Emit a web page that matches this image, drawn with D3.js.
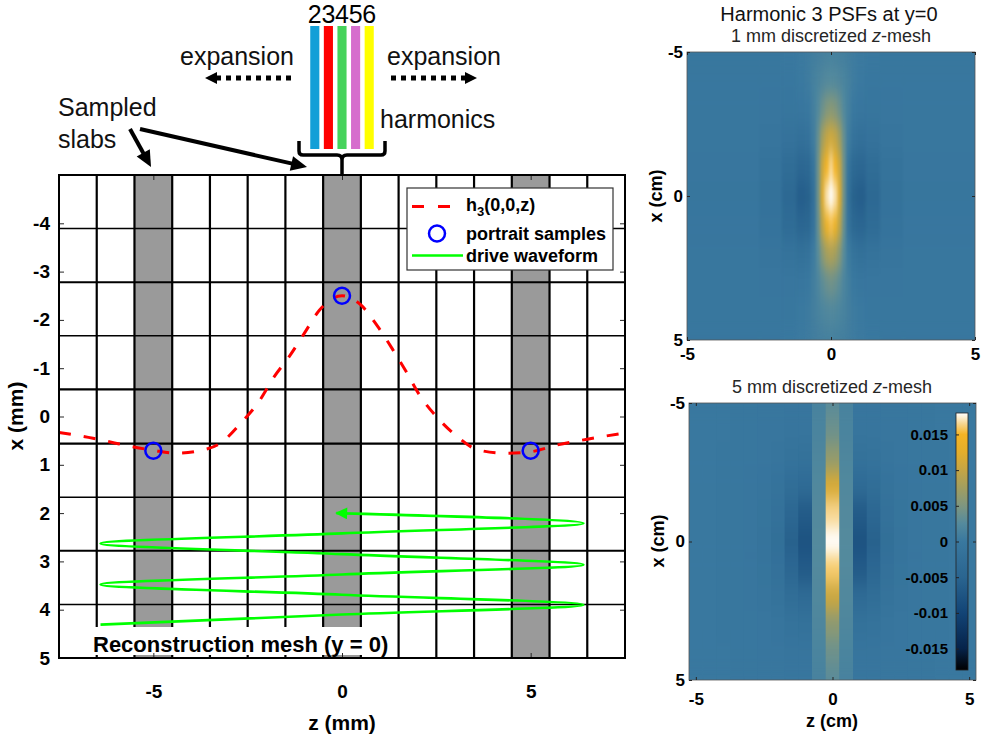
<!DOCTYPE html>
<html>
<head>
<meta charset="utf-8">
<script src="https://cdn.jsdelivr.net/npm/d3@7"></script>
<style>
  body { margin: 0; background: #fff; }
  text { font-family: "Liberation Sans", Arial, sans-serif; }
</style>
</head>
<body>
<div class="canvas"></div>
<script>
// ---------- values ----------
const harmonics = [2, 3, 4, 5, 6];
const harmonicColours = ['#139fd7', '#ff0000', '#45d35b', '#d66ecd', '#ffff00'];

const slabCentres = [-5, 0, 5];                       // sampled slabs (mm)
const zMeshEdges = [-6.5, -5.5, -4.5, -3.5, -2.5, -1.5, -0.5, 0.5, 1.5, 2.5, 3.5, 4.5, 5.5, 6.5];
const xMeshEdges = [-3.89, -2.78, -1.67, -0.56, 0.56, 1.67, 2.78, 3.89];

// h3(0,0,z) dashed curve
const hZ = [-7.5, -6.6, -5.9, -5, -4.4, -3.8, -3.2, -2.65, -2.2, -1.8, -1.4, -1.0, -0.6, 0,
            0.5, 0.95, 1.35, 1.7, 2.05, 2.5, 3.0, 3.6, 4.3, 5.0, 5.7, 6.5, 7.5];
const hX = [0.33, 0.45, 0.57, 0.70, 0.76, 0.71, 0.54, 0.11, -0.31, -0.82, -1.24, -1.72, -2.2, -2.5,
            -2.31, -1.86, -1.38, -0.93, -0.45, 0.0, 0.38, 0.69, 0.76, 0.73, 0.59, 0.47, 0.34];

// portrait samples
const sampleZ = [-5, 0, 5];
const sampleX = [0.71, -2.5, 0.71];

// drive waveform (turning points and crossings)
const driveZ = [-6.4, 0, 6.4, 0, -6.4, 0, 6.4, 0, -6.4, 0, 6.4, -0.15];
const driveX = [4.31, 4.10, 3.90, 3.69, 3.48, 3.27, 3.07, 2.85, 2.63, 2.42, 2.21, 2.0];

const zTicks = [-5, 0, 5];
const xTicks = [-4, -3, -2, -1, 0, 1, 2, 3, 4, 5];

// PSF panels (x rows in cm, z columns in cm, one half mirrored about z = 0)
const psfRowsX = [-5, -4, -3, -2, -1, 0, 1, 2, 3, 4, 5];
const psfColsZ1mm = [0, 0.15, 0.3, 0.45, 0.6, 0.8, 1.0, 1.4, 2.0, 3.0];
const psf1mm = [
  [0.0012, 0.0011, 0.0010, 0.0009, 0.0007, 0.0004, 0.0002, 0, -0.0002, -0.0002],
  [0.0025, 0.0024, 0.0020, 0.0016, 0.0011, 0.0005, 0.0001, -0.0002, -0.0003, -0.0002],
  [0.0058, 0.0052, 0.0040, 0.0023, 0.0010, 0.0, -0.0005, -0.0006, -0.0004, -0.0002],
  [0.0110, 0.0100, 0.0075, 0.0035, 0.0006, -0.0015, -0.0020, -0.0015, -0.0008, -0.0003],
  [0.0165, 0.0150, 0.0105, 0.0040, -0.0010, -0.0040, -0.0045, -0.0030, -0.0013, -0.0005],
  [0.0180, 0.0170, 0.0120, 0.0040, -0.0020, -0.0055, -0.0060, -0.0040, -0.0017, -0.0006],
  [0.0155, 0.0140, 0.0095, 0.0035, -0.0015, -0.0042, -0.0047, -0.0032, -0.0014, -0.0005],
  [0.0085, 0.0078, 0.0056, 0.0027, 0.0004, -0.0014, -0.0019, -0.0014, -0.0008, -0.0003],
  [0.0042, 0.0038, 0.0030, 0.0018, 0.0008, 0.0, -0.0004, -0.0005, -0.0004, -0.0002],
  [0.0022, 0.0021, 0.0018, 0.0014, 0.0009, 0.0004, 0.0001, -0.0002, -0.0003, -0.0002],
  [0.0012, 0.0011, 0.0010, 0.0009, 0.0007, 0.0004, 0.0002, 0, -0.0002, -0.0002]
];
const psfColsZ5mm = [0, 0.5, 1.0, 1.5, 2.0, 2.5, 3.0, 3.5, 4.0, 4.5, 5.0];
const psf5mm = [
  [0.0028, 0.0014, -0.0004, -0.0004, -0.0003, -0.0003, -0.0002, -0.0002, -0.0001, -0.0001, -0.0001],
  [0.0040, 0.0016, -0.0008, -0.0008, -0.0005, -0.0004, -0.0003, -0.0002, -0.0001, -0.0001, -0.0001],
  [0.0065, 0.0019, -0.0016, -0.0014, -0.0008, -0.0005, -0.0003, -0.0002, -0.0002, -0.0001, -0.0001],
  [0.0115, 0.0022, -0.0035, -0.0026, -0.0012, -0.0007, -0.0004, -0.0003, -0.0002, -0.0001, -0.0001],
  [0.0165, 0.0024, -0.0065, -0.0045, -0.0018, -0.0009, -0.0005, -0.0003, -0.0002, -0.0001, -0.0001],
  [0.0180, 0.0025, -0.0078, -0.0055, -0.0022, -0.0010, -0.0005, -0.0003, -0.0002, -0.0001, -0.0001],
  [0.0160, 0.0024, -0.0065, -0.0045, -0.0018, -0.0009, -0.0005, -0.0003, -0.0002, -0.0001, -0.0001],
  [0.0105, 0.0022, -0.0035, -0.0026, -0.0012, -0.0007, -0.0004, -0.0003, -0.0002, -0.0001, -0.0001],
  [0.0060, 0.0019, -0.0016, -0.0014, -0.0008, -0.0005, -0.0003, -0.0002, -0.0002, -0.0001, -0.0001],
  [0.0040, 0.0016, -0.0008, -0.0008, -0.0005, -0.0004, -0.0003, -0.0002, -0.0001, -0.0001, -0.0001],
  [0.0028, 0.0014, -0.0004, -0.0004, -0.0003, -0.0003, -0.0002, -0.0002, -0.0001, -0.0001, -0.0001]
];
const psfTicks = [-5, 0, 5];
const cbarTicks = [0.015, 0.01, 0.005, 0, -0.005, -0.01, -0.015];

// colour map
const cmapValues = [-0.018, -0.015, -0.01, -0.005, 0, 0.0025, 0.005, 0.0075, 0.01, 0.0125, 0.015, 0.0165, 0.018];
const cmapColours = ['#000000', '#06234a', '#124476', '#2a6590', '#39789f', '#548a9d', '#7e9680',
                     '#a19e60', '#c4a545', '#e3ae2c', '#f4b425', '#f7d690', '#ffffff'];

// ---------- svg ----------
const svg = d3.select('.canvas').append('svg')
  .attr('width', 989)
  .attr('height', 736);

svg.append('rect').attr('width', 989).attr('height', 736).attr('fill', '#fff');
const defs = svg.append('defs');

const bold = sel => sel.attr('font-weight', 'bold').attr('fill', '#000');
const plain = d => String(d);   // keep ascii hyphen minus like the original

// ---------- main plot ----------
const dims = { left: 59, right: 625, top: 175, bottom: 658 };
const z = d3.scaleLinear().domain([-7.5, 7.5]).range([dims.left, dims.right]);
const x = d3.scaleLinear().domain([-5, 5]).range([dims.top, dims.bottom]);

const graph = svg.append('g');

// grey slabs
graph.selectAll('rect.slab')
  .data(slabCentres)
  .enter().append('rect')
    .attr('class', 'slab')
    .attr('x', d => z(d - 0.5))
    .attr('width', d => z(d + 0.5) - z(d - 0.5))
    .attr('y', dims.top)
    .attr('height', dims.bottom - dims.top)
    .attr('fill', '#9a9a9a');

// mesh
graph.selectAll('line.vmesh')
  .data(zMeshEdges)
  .enter().append('line')
    .attr('x1', d => z(d)).attr('x2', d => z(d))
    .attr('y1', dims.top).attr('y2', dims.bottom)
    .attr('stroke', '#000').attr('stroke-width', 2.2);

const hWidths = [1.5, 2.2, 1.5, 2.2, 2.2, 1.5, 2.2, 1.5];
graph.selectAll('line.hmesh')
  .data(xMeshEdges)
  .enter().append('line')
    .attr('x1', dims.left).attr('x2', dims.right)
    .attr('y1', d => x(d)).attr('y2', d => x(d))
    .attr('stroke', '#000').attr('stroke-width', (d, i) => hWidths[i]);

// h3 curve
const hLine = d3.line()
  .x(d => z(d[0]))
  .y(d => x(d[1]))
  .curve(d3.curveMonotoneX);

graph.append('path')
  .attr('d', hLine(d3.zip(hZ, hX)))
  .attr('fill', 'none')
  .attr('stroke', '#ff0000')
  .attr('stroke-width', 3)
  .attr('stroke-dasharray', '12,13');

// portrait samples
graph.selectAll('circle.sample')
  .data(d3.zip(sampleZ, sampleX))
  .enter().append('circle')
    .attr('cx', d => z(d[0]))
    .attr('cy', d => x(d[1]))
    .attr('r', 8)
    .attr('fill', 'none')
    .attr('stroke', '#0000ff')
    .attr('stroke-width', 2.5);

// drive waveform
defs.append('marker')
  .attr('id', 'greenHead')
  .attr('viewBox', '0 0 10 10')
  .attr('refX', 9).attr('refY', 5)
  .attr('markerUnits', 'userSpaceOnUse')
  .attr('markerWidth', 13).attr('markerHeight', 12)
  .attr('orient', 'auto')
  .append('path')
    .attr('d', 'M0,0 L10,5 L0,10 z')
    .attr('fill', '#00ff00');

const driveLine = d3.line()
  .x(d => z(d[0]))
  .y(d => x(d[1]))
  .curve(d3.curveMonotoneY);

graph.append('path')
  .attr('d', driveLine(d3.zip(driveZ, driveX)))
  .attr('fill', 'none')
  .attr('stroke', '#00ff00')
  .attr('stroke-width', 2.6)
  .attr('marker-end', 'url(#greenHead)');

// text box
graph.append('rect')
  .attr('x', 86).attr('y', 627).attr('width', 311).attr('height', 28)
  .attr('fill', '#fff');
graph.append('text')
  .attr('x', 93).attr('y', 652)
  .attr('font-size', 22)
  .call(bold)
  .text('Reconstruction mesh (y = 0)');

// axes
const axB = svg.append('g')
  .attr('transform', `translate(0, ${dims.bottom})`)
  .call(d3.axisBottom(z).tickValues(zTicks).tickSize(-5).tickPadding(27).tickFormat(plain));
const axL = svg.append('g')
  .attr('transform', `translate(${dims.left}, 0)`)
  .call(d3.axisLeft(x).tickValues(xTicks).tickSize(-5).tickPadding(9).tickFormat(plain));
const axR = svg.append('g')
  .attr('transform', `translate(${dims.right}, 0)`)
  .call(d3.axisRight(x).tickValues(xTicks).tickSize(-5).tickFormat(''));
const axT = svg.append('g')
  .attr('transform', `translate(0, ${dims.top})`)
  .call(d3.axisTop(z).tickValues(zTicks).tickSize(-5).tickFormat(''));
[axB, axL, axR, axT].forEach(a => {
  a.select('.domain').remove();
  a.selectAll('line').attr('stroke', '#262626');
  a.selectAll('text').attr('font-size', 19).attr('font-weight', 'bold')
    .attr('font-family', '"Liberation Sans", Arial, sans-serif').attr('fill', '#000');
});

svg.append('rect')
  .attr('x', dims.left).attr('y', dims.top)
  .attr('width', dims.right - dims.left).attr('height', dims.bottom - dims.top)
  .attr('fill', 'none').attr('stroke', '#000').attr('stroke-width', 2);

svg.append('text')
  .attr('x', 342).attr('y', 730)
  .attr('text-anchor', 'middle').attr('font-size', 21)
  .call(bold).text('z (mm)');
svg.append('text')
  .attr('transform', 'translate(23, 416) rotate(-90)')
  .attr('text-anchor', 'middle').attr('font-size', 21)
  .call(bold).text('x (mm)');

// legend
const legend = svg.append('g');
legend.append('rect')
  .attr('x', 407).attr('y', 188).attr('width', 206).attr('height', 82)
  .attr('fill', '#fff').attr('stroke', '#333').attr('stroke-width', 1.2);
legend.append('line')
  .attr('x1', 412).attr('x2', 451).attr('y1', 206.5).attr('y2', 206.5)
  .attr('stroke', '#ff0000').attr('stroke-width', 3).attr('stroke-dasharray', '12,14');
const hLab = legend.append('text').attr('x', 466).attr('y', 211).attr('font-size', 18).call(bold);
hLab.append('tspan').text('h');
hLab.append('tspan').attr('dy', 5).attr('font-size', 13).text('3');
hLab.append('tspan').attr('dy', -5).text('(0,0,z)');
legend.append('circle')
  .attr('cx', 437).attr('cy', 233.5).attr('r', 8)
  .attr('fill', 'none').attr('stroke', '#0000ff').attr('stroke-width', 2.5);
legend.append('text').attr('x', 466).attr('y', 240).attr('font-size', 18).call(bold).text('portrait samples');
legend.append('line')
  .attr('x1', 412).attr('x2', 463).attr('y1', 255.5).attr('y2', 255.5)
  .attr('stroke', '#00ff00').attr('stroke-width', 2.6);
legend.append('text').attr('x', 466).attr('y', 262).attr('font-size', 18).call(bold).text('drive waveform');

// ---------- annotations above the plot ----------
const notes = svg.append('g');

const band = d3.scaleBand().domain(harmonics).range([308, 376]).paddingInner(0.33).paddingOuter(0.165);
const hColour = d3.scaleOrdinal().domain(harmonics).range(harmonicColours);

notes.selectAll('rect.harm')
  .data(harmonics)
  .enter().append('rect')
    .attr('x', d => band(d))
    .attr('width', band.bandwidth())
    .attr('y', 26).attr('height', 123)
    .attr('fill', d => hColour(d));

notes.selectAll('text.harm')
  .data(harmonics)
  .enter().append('text')
    .attr('x', d => band(d) + band.bandwidth() / 2)
    .attr('y', 23)
    .attr('text-anchor', 'middle')
    .attr('font-size', 25)
    .text(d => d);

const note = (tx, ty, str) => notes.append('text')
  .attr('x', tx).attr('y', ty).attr('font-size', 25).attr('fill', '#111').text(str);
note(180, 65, 'expansion');
note(387, 65, 'expansion');
note(380, 128, 'harmonics');
note(58, 116, 'Sampled');
note(58, 148, 'slabs');

function arrow(x1, y1, x2, y2, w, len, half, dash) {
  const a = Math.atan2(y2 - y1, x2 - x1);
  const c = Math.cos(a), s = Math.sin(a);
  const bx = x2 - len * c, by = y2 - len * s;
  const ln = notes.append('line')
    .attr('x1', x1).attr('y1', y1)
    .attr('x2', bx + 2 * c).attr('y2', by + 2 * s)
    .attr('stroke', '#000').attr('stroke-width', w);
  if (dash) ln.attr('stroke-dasharray', dash);
  notes.append('polygon')
    .attr('points', [[x2, y2], [bx - half * s, by + half * c], [bx + half * s, by - half * c]].join(' '))
    .attr('fill', '#000');
}
arrow(291, 78, 205, 78, 5, 12, 6, '5,5');
arrow(391, 78, 477, 78, 5, 12, 6, '5,5');
arrow(140, 129, 307, 167, 4, 16, 7.5);
arrow(130, 129, 151, 167, 4, 16, 7.5);

// brace
notes.append('path')
  .attr('d', 'M299,141 L299,151 Q299,155 303,155 L337,155 Q342,155 342,160 L342,174 ' +
             'M342,160 Q342,155 347,155 L381,155 Q385,155 385,151 L385,141')
  .attr('fill', 'none').attr('stroke', '#000').attr('stroke-width', 3.5);

// ---------- PSF panels ----------
const cmap = d3.scaleLinear().domain(cmapValues).range(cmapColours).clamp(true);

function makeBlur(id, sd) {
  const f = defs.append('filter').attr('id', id)
    .attr('x', '-10%').attr('y', '-10%').attr('width', '120%').attr('height', '120%')
    .attr('color-interpolation-filters', 'sRGB');
  f.append('feGaussianBlur').attr('stdDeviation', sd);
  f.append('feComponentTransfer').append('feFuncA').attr('type', 'table').attr('tableValues', '1 1');
}
makeBlur('blur1', '1.6 9');
makeBlur('blur5', '0 9');

function edges(c, lo, hi) {
  return c.map((v, i) => [
    i === 0 ? lo : (c[i - 1] + v) / 2,
    i === c.length - 1 ? hi : (v + c[i + 1]) / 2
  ]);
}

function drawPsf(table, colsZ, zs, xs, blurId, clipId) {
  const n = colsZ.length;
  const fullZ = colsZ.slice(1).reverse().map(v => -v).concat(colsZ);
  const zE = edges(fullZ, zs.domain()[0], zs.domain()[1]);
  const xE = edges(psfRowsX, xs.domain()[0], xs.domain()[1]);
  const cells = [];
  psfRowsX.forEach((xv, i) => fullZ.forEach((zv, j) => {
    cells.push({ z0: zE[j][0], z1: zE[j][1], x0: xE[i][0], x1: xE[i][1], v: table[i][Math.abs(j - (n - 1))] });
  }));

  const [zl, zr] = zs.range(), [xt, xb] = xs.range();
  defs.append('clipPath').attr('id', clipId)
    .append('rect').attr('x', zl).attr('y', xt).attr('width', zr - zl).attr('height', xb - xt);

  svg.append('rect')
    .attr('x', zl).attr('y', xt).attr('width', zr - zl).attr('height', xb - xt)
    .attr('fill', cmap(0));

  const holder = svg.append('g').attr('clip-path', `url(#${clipId})`);
  holder.append('g').attr('filter', `url(#${blurId})`)
    .selectAll('rect')
    .data(cells)
    .enter().append('rect')
      .attr('x', d => zs(d.z0))
      .attr('y', d => xs(d.x0))
      .attr('width', d => zs(d.z1) - zs(d.z0) + 0.4)
      .attr('height', d => xs(d.x1) - xs(d.x0) + 0.4)
      .attr('fill', d => cmap(d.v));

  svg.append('rect')
    .attr('x', zl).attr('y', xt).attr('width', zr - zl).attr('height', xb - xt)
    .attr('fill', 'none').attr('stroke', '#555').attr('stroke-width', 0.8);
}

function psfAxes(zs, xs, bottomPad) {
  const [zl, zr] = zs.range(), [xt, xb] = xs.range();
  const gl = svg.append('g').attr('transform', `translate(${zl},0)`)
    .call(d3.axisLeft(xs).tickValues(psfTicks).tickSize(-3).tickPadding(4).tickFormat(plain));
  const gb = svg.append('g').attr('transform', `translate(0,${xb})`)
    .call(d3.axisBottom(zs).tickValues(psfTicks).tickSize(-3).tickPadding(bottomPad).tickFormat(plain));
  const gr = svg.append('g').attr('transform', `translate(${zr},0)`)
    .call(d3.axisRight(xs).tickValues(psfTicks).tickSize(-3).tickFormat(''));
  const gt = svg.append('g').attr('transform', `translate(0,${xt})`)
    .call(d3.axisTop(zs).tickValues(psfTicks).tickSize(-3).tickFormat(''));
  [gl, gb, gr, gt].forEach(a => {
    a.select('.domain').remove();
    a.selectAll('line').attr('stroke', '#262626');
    a.selectAll('text').attr('font-size', 17).attr('font-weight', 'bold')
      .attr('font-family', '"Liberation Sans", Arial, sans-serif').attr('fill', '#000');
  });
}

// top panel: 1 mm mesh
const zs1 = d3.scaleLinear().domain([-5, 5]).range([687, 975]);
const xs1 = d3.scaleLinear().domain([-5, 5]).range([52, 340]);
drawPsf(psf1mm, psfColsZ1mm, zs1, xs1, 'blur1', 'clip1');
psfAxes(zs1, xs1, 8);

// bottom panel: 5 mm mesh
const zs5 = d3.scaleLinear().domain([-5.25, 5.25]).range([689, 976]);
const xs5 = d3.scaleLinear().domain([-5, 5]).range([403, 680]);
drawPsf(psf5mm, psfColsZ5mm, zs5, xs5, 'blur5', 'clip5');
psfAxes(zs5, xs5, 13);

svg.append('text')
  .attr('x', 829).attr('y', 21).attr('text-anchor', 'middle')
  .attr('font-size', 20).attr('fill', '#111')
  .text('Harmonic 3 PSFs at y=0');

const subtitle = (cx, cy, mm) => {
  const t = svg.append('text')
    .attr('x', cx).attr('y', cy).attr('text-anchor', 'middle')
    .attr('font-family', '"Liberation Serif", "Times New Roman", serif')
    .attr('font-size', 18).attr('fill', '#262626');
  t.append('tspan').text(`${mm} mm discretized `);
  t.append('tspan').attr('font-style', 'italic').text('z');
  t.append('tspan').text('-mesh');
};
subtitle(831, 42, 1);
subtitle(832, 393, 5);

svg.append('text')
  .attr('transform', 'translate(662, 196) rotate(-90)')
  .attr('text-anchor', 'middle').attr('font-size', 18)
  .call(bold).text('x (cm)');
svg.append('text')
  .attr('transform', 'translate(664, 541) rotate(-90)')
  .attr('text-anchor', 'middle').attr('font-size', 18)
  .call(bold).text('x (cm)');
svg.append('text')
  .attr('x', 832).attr('y', 727).attr('text-anchor', 'middle').attr('font-size', 18)
  .call(bold).text('z (cm)');

// colour bar
const cs = d3.scaleLinear().domain([-0.018, 0.018]).range([670, 413]);
const grad = defs.append('linearGradient').attr('id', 'cbar')
  .attr('x1', 0).attr('y1', 1).attr('x2', 0).attr('y2', 0);
grad.selectAll('stop')
  .data(cmapValues)
  .enter().append('stop')
    .attr('offset', d => (d - cmapValues[0]) / (cmapValues[cmapValues.length - 1] - cmapValues[0]))
    .attr('stop-color', (d, i) => cmapColours[i]);

svg.append('rect')
  .attr('x', 956).attr('y', cs(0.018)).attr('width', 12).attr('height', cs(-0.018) - cs(0.018))
  .attr('fill', 'url(#cbar)').attr('stroke', '#222').attr('stroke-width', 0.8);

const cAx = svg.append('g').attr('transform', 'translate(956,0)')
  .call(d3.axisLeft(cs).tickValues(cbarTicks).tickSize(-3).tickPadding(8).tickFormat(plain));
cAx.select('.domain').remove();
cAx.selectAll('line').attr('stroke', '#222');
cAx.selectAll('text').attr('font-size', 15).attr('font-weight', 'bold')
  .attr('font-family', '"Liberation Sans", Arial, sans-serif').attr('fill', '#000');
</script>
</body>
</html>
